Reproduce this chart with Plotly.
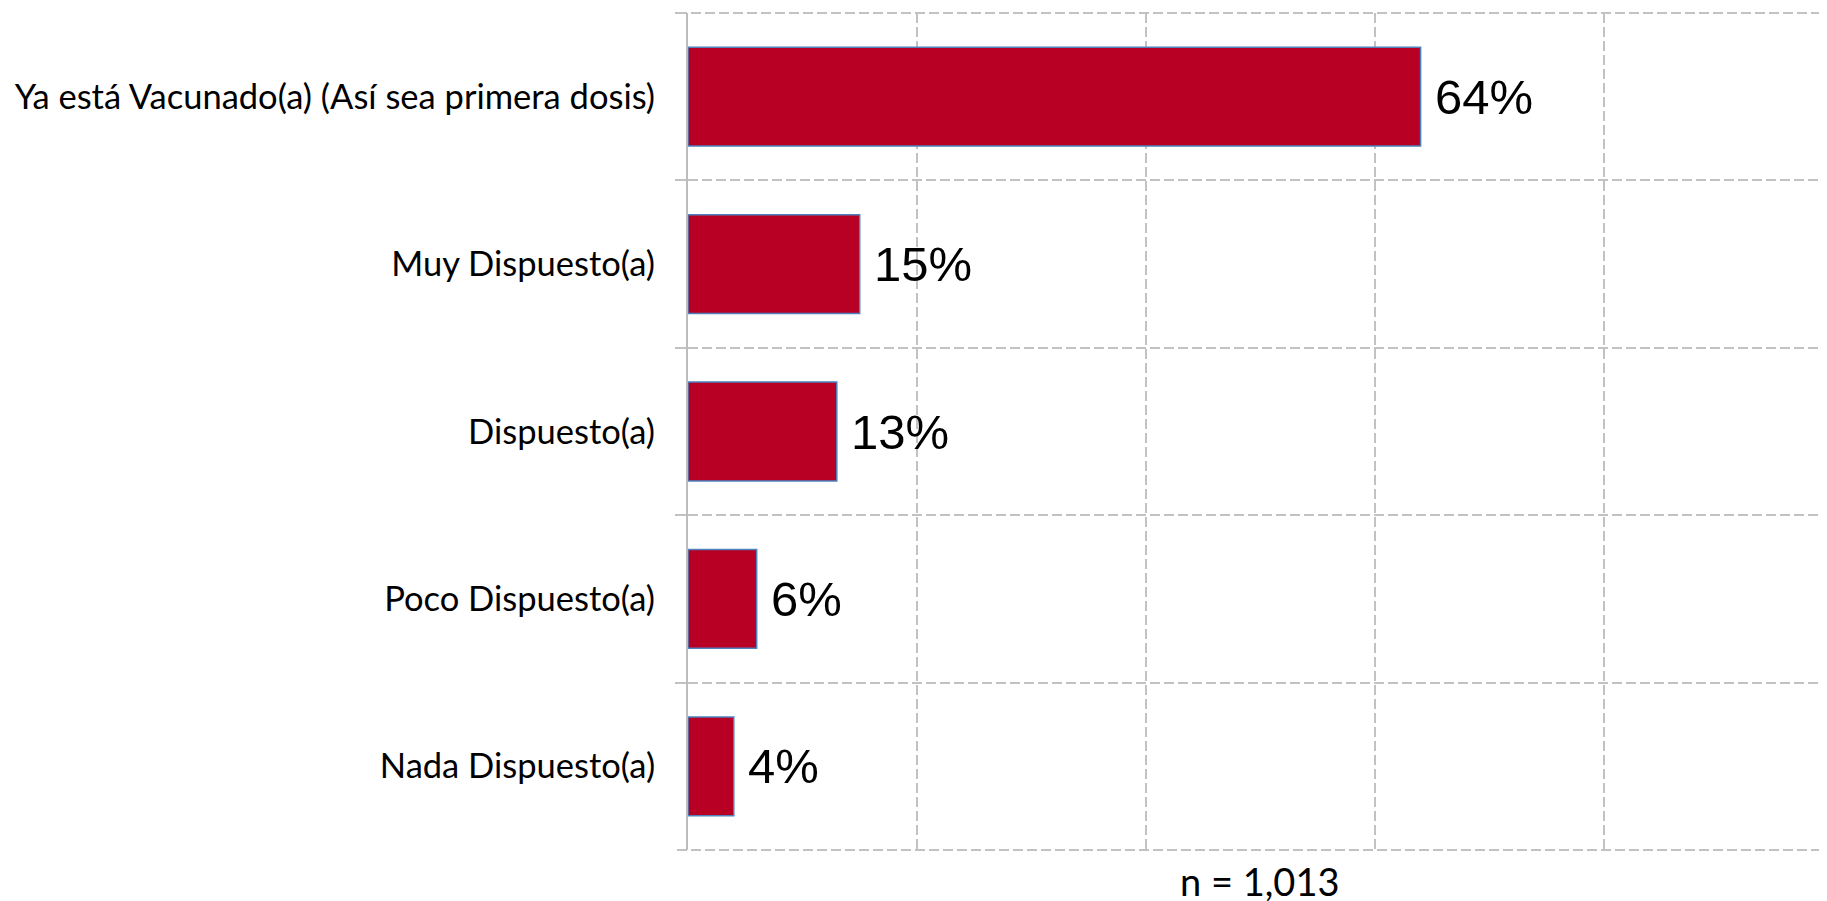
import plotly.graph_objects as go

categorias = [
    "Ya está Vacunado(a) (Así sea primera dosis)",
    "Muy Dispuesto(a)",
    "Dispuesto(a)",
    "Poco Dispuesto(a)",
    "Nada Dispuesto(a)",
]
porcentajes = [64, 15, 13, 6, 4]
etiquetas = ["64%", "15%", "13%", "6%", "4%"]
nota_n = "n = 1,013"

grid_color = "#C2C2C2"
dash = "10px,4px"

fig = go.Figure()
fig.add_trace(go.Bar(
    x=porcentajes,
    y=categorias,
    orientation="h",
    marker=dict(color="#B70024", line=dict(color="#4F81BD", width=1.5)),
    hoverinfo="skip",
))

# etiquetas de valor a la derecha de cada barra
for cat, val, txt in zip(categorias, porcentajes, etiquetas):
    fig.add_annotation(
        x=val, y=cat, text=txt, showarrow=False,
        xanchor="left", yanchor="middle", xshift=12,
        font=dict(family="Liberation Sans, Arial", size=49, color="black"),
    )

fig.add_annotation(
    x=50, y=0, xref="x", yref="paper", yshift=-31, text=nota_n, showarrow=False,
    yanchor="middle",
    font=dict(family="Lato", size=38, color="black"),
)

# lineas de borde arriba y abajo (tickson boundaries no las dibuja)
for yy in (0, 1):
    fig.add_shape(
        type="line", xref="paper", yref="paper",
        x0=-0.0096, x1=1, y0=yy, y1=yy,
        line=dict(color=grid_color, width=2, dash=dash),
        layer="below",
    )

fig.update_layout(
    width=1827, height=901, autosize=False,
    margin=dict(l=680, r=0, t=5, b=59),
    plot_bgcolor="white", paper_bgcolor="white",
    bargap=0.41,
    showlegend=False,
)
fig.update_xaxes(
    range=[0, 100.2], dtick=20, showticklabels=False,
    showgrid=True, gridcolor=grid_color, gridwidth=2, griddash=dash,
    zeroline=False, showline=False,
)
fig.update_yaxes(
    autorange="reversed", tickson="boundaries",
    ticks="outside", ticklen=11, tickcolor=grid_color, tickwidth=2,
    ticklabelstandoff=24,
    showgrid=True, gridcolor=grid_color, gridwidth=2, griddash=dash,
    showline=True, linecolor="#BDBDBD", linewidth=2,
    tickfont=dict(family="Lato", size=34.5, color="black"),
)

fig.write_html("out.html")
